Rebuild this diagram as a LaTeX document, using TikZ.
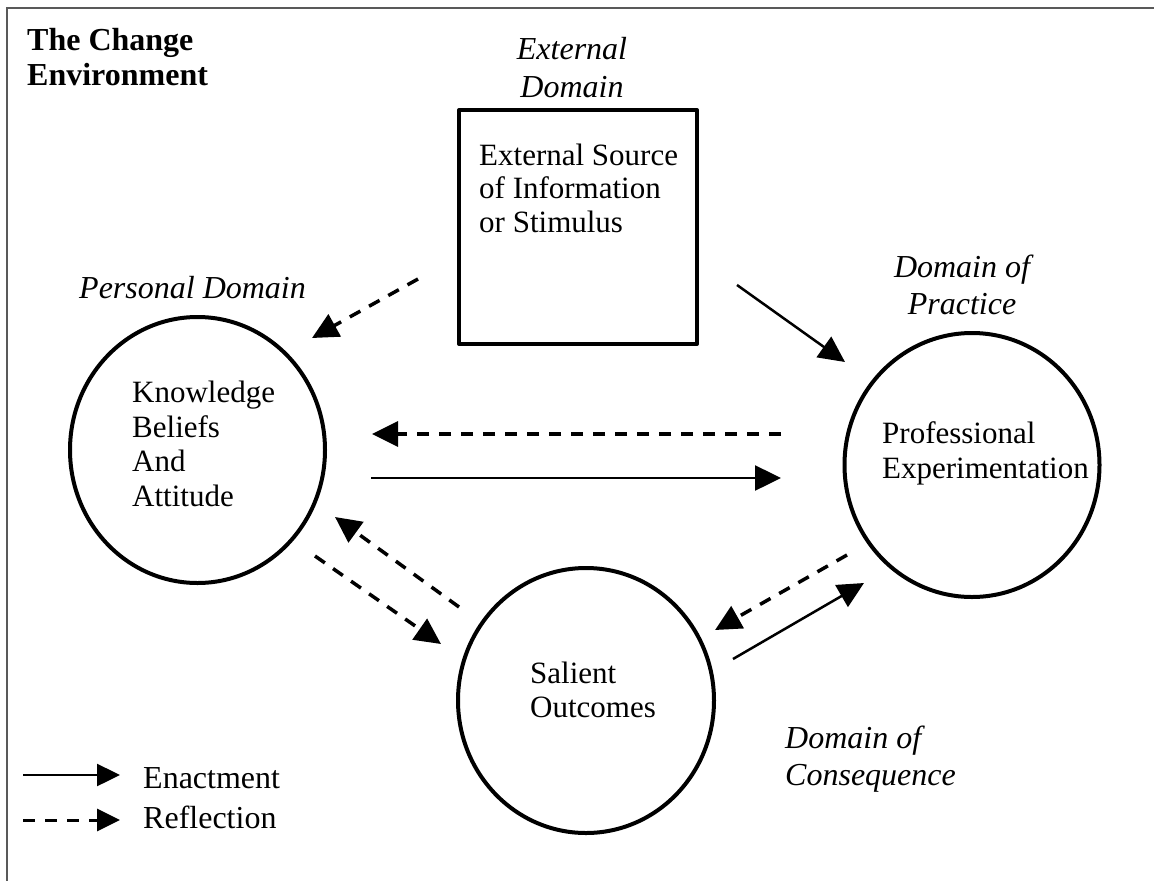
\documentclass[tikz,border=0pt]{standalone}
\usepackage{fontspec}
\setmainfont{Liberation Serif}
\usetikzlibrary{positioning,shapes.geometric,arrows.meta}

\begin{document}
\begin{tikzpicture}[x=1pt,y=-1pt,>={Triangle[length=26pt,width=25pt]}]
            \tikzstyle{zone}=[draw, ellipse, line width=4pt, inner sep=0pt]
            \tikzstyle{txt}=[inner sep=0pt, align=left, font=\fontsize{31}{34.5}\selectfont]
            \tikzstyle{ital}=[inner sep=0pt, font=\fontsize{32}{38}\selectfont\itshape]
            \tikzstyle{enact}=[->, line width=2.5pt]
            \tikzstyle{reflect}=[->, line width=3.5pt, dash pattern=on 12pt off 10pt]
            \useasboundingbox (0,0) rectangle (1154,881);
            % frame (open to the right and below)
            \draw[line width=2pt, black!65] (1154,8) -| (7,881);
            % multi-line texts sit on their last baseline
            \node[txt, anchor=base west, font=\fontsize{32}{35}\selectfont\bfseries] (title) at (27,85) {The Change\\Environment};
            %             E
            %   K                 P
            %          S
            \node[draw, line width=4pt, line join=round, minimum width=238pt, minimum height=234pt, inner sep=0pt] (E) at (578,227) {};
            \node[zone, minimum width=255pt, minimum height=266pt] (K) at (197.5,450) {};
            \node[zone, minimum width=255pt, minimum height=264pt] (P) at (972,465) {};
            \node[zone, minimum width=256pt, minimum height=265pt] (S) at (586,700.5) {};
            % texts
            \node[txt, anchor=base west, font=\fontsize{31}{33.5}\selectfont] (Etxt) at (479,232) {External Source\\of Information\\or Stimulus};
            \node[txt, anchor=base west] (Ktxt) at (132,506) {Knowledge\\Beliefs\\And\\Attitude};
            \node[txt, anchor=base west, font=\fontsize{31}{35}\selectfont] (Ptxt) at (882,478) {Professional\\Experimentation};
            \node[txt, anchor=base west, font=\fontsize{31}{34}\selectfont] (Stxt) at (530,717) {Salient\\Outcomes};
            \node[ital, anchor=base, align=center] (Edom) at (572,97) {External\\Domain};
            \node[ital, anchor=base west] (Kdom) at (79,298) {Personal Domain};
            \node[ital, anchor=base, align=center, font=\fontsize{32}{37}\selectfont\itshape] (Pdom) at (962,314) {Domain of\\Practice};
            \node[ital, anchor=base west, align=left, font=\fontsize{32}{37}\selectfont\itshape] (Sdom) at (785,785) {Domain of\\Consequence};
            % arrow ends
            \coordinate (EK1) at (418,279);  \coordinate (EK2) at (312,338);
            \coordinate (EP1) at (737,285);  \coordinate (EP2) at (845,362);
            \coordinate (PK1) at (781,434);  \coordinate (PK2) at (372,434);
            \coordinate (KP1) at (371,478);  \coordinate (KP2) at (781,478);
            \coordinate (KS1) at (315,556);  \coordinate (KS2) at (441,644);
            \coordinate (SK1) at (459,607);  \coordinate (SK2) at (335,517);
            \coordinate (PS1) at (847,555);  \coordinate (PS2) at (715,630);
            \coordinate (SP1) at (733,659);  \coordinate (SP2) at (864,583);
            \draw[reflect] (EK1) -- (EK2);
            \draw[enact]   (EP1) -- (EP2);
            \draw[reflect] (PK1) -- (PK2);
            \draw[enact]   (KP1) -- (KP2);
            \draw[reflect] (KS1) -- (KS2);
            \draw[reflect] (SK1) -- (SK2);
            \draw[reflect] (PS1) -- (PS2);
            \draw[enact]   (SP1) -- (SP2);
            % legend
            \node[txt, anchor=base west, font=\fontsize{32}{35}\selectfont] (Lenact) at (143,788) {Enactment};
            \node[txt, anchor=base west, font=\fontsize{32}{35}\selectfont] (Lrefl) at (143,828) {Reflection};
            \coordinate (L1) at (23,775);  \coordinate (L2) at (120,775);
            \coordinate (L3) at (23,820);  \coordinate (L4) at (120,820);
            \draw[enact, >={Triangle[length=23pt,width=22pt]}] (L1) -- (L2);
            \draw[reflect, line width=3pt, >={Triangle[length=23pt,width=22pt]}] (L3) -- (L4);
\end{tikzpicture}
\end{document}
